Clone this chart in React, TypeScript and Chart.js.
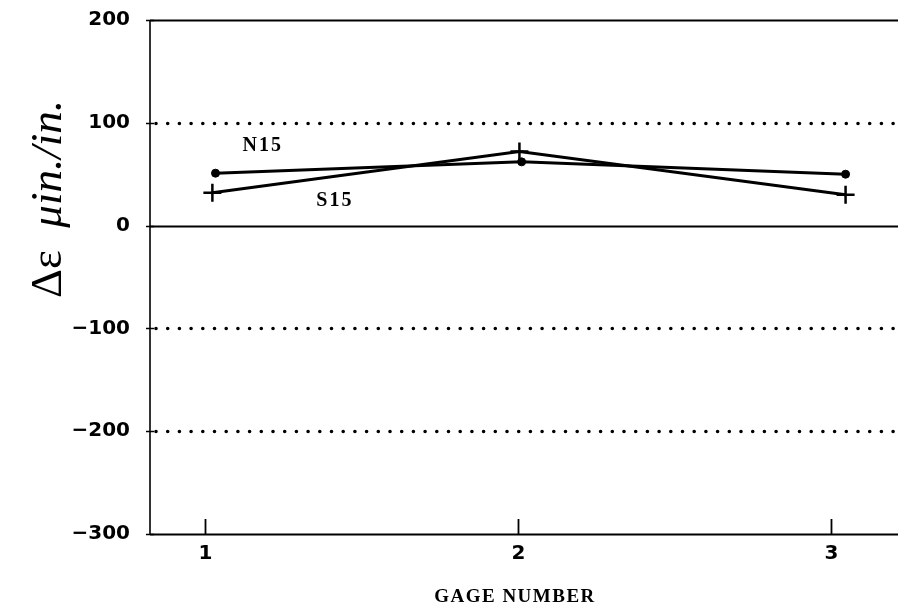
import React, { useEffect, useRef } from "react";
import { Chart, registerables } from "chart.js";

Chart.register(...registerables);

// Data
const gageTicks = [1, 2, 3];
const n15X = [1.032, 2.01, 3.045];
const n15Y = [51, 62, 50];
const s15X = [1.022, 2.003, 3.045];
const s15Y = [32, 72, 30];
const yTicks = [-300, -200, -100, 0, 100, 200];
const solidLines = [0, 200];
const seriesLabels = ["N15", "S15"];
const labelX = [1.18, 1.41];
const labelY = [78, 24];

const decorPlugin = {
  id: "decor",
  beforeDatasetsDraw(chart: any) {
    const { ctx, chartArea, scales } = chart;
    const { left, right, bottom } = chartArea;
    const ys = scales.y;
    const xs = scales.x;
    ctx.save();
    ctx.strokeStyle = "#000";
    yTicks.forEach((v) => {
      const py = Math.round(ys.getPixelForValue(v)) + 0.5;
      const solid = solidLines.includes(v) || v === -300;
      ctx.beginPath();
      if (solid) {
        ctx.setLineDash([]);
        ctx.lineWidth = 2;
        ctx.lineCap = "butt";
      } else {
        ctx.setLineDash([0, 11.7]);
        ctx.lineWidth = 3.6;
        ctx.lineCap = "round";
      }
      ctx.moveTo(left + (solid ? 0 : 6), py);
      ctx.lineTo(right, py);
      ctx.stroke();
      ctx.setLineDash([]);
      ctx.lineWidth = 1.5;
      ctx.lineCap = "butt";
      ctx.beginPath();
      ctx.moveTo(left - 4, py);
      ctx.lineTo(left + 4, py);
      ctx.stroke();
    });
    ctx.setLineDash([]);
    ctx.lineWidth = 1.6;
    ctx.beginPath();
    ctx.moveTo(left, ys.getPixelForValue(200));
    ctx.lineTo(left, ys.getPixelForValue(-300));
    ctx.stroke();
    ctx.lineWidth = 1.8;
    ctx.fillStyle = "#000";
    ctx.font = "bold 20px 'DejaVu Sans'";
    ctx.textAlign = "center";
    ctx.textBaseline = "middle";
    gageTicks.forEach((t) => {
      const px = xs.getPixelForValue(t);
      ctx.beginPath();
      ctx.moveTo(px, bottom);
      ctx.lineTo(px, bottom - 15);
      ctx.stroke();
      ctx.fillText(String(t), px, bottom + 20);
    });
    ctx.restore();
  },
  afterDatasetsDraw(chart: any) {
    const { ctx, scales } = chart;
    const xs = scales.x;
    const ys = scales.y;
    ctx.save();
    ctx.fillStyle = "#000";
    ctx.textAlign = "center";
    ctx.textBaseline = "middle";
    ctx.font = "bold 20px 'Liberation Serif'";
    (ctx as any).letterSpacing = "2px";
    seriesLabels.forEach((lab, i) => {
      ctx.fillText(lab, xs.getPixelForValue(labelX[i]) + 1, ys.getPixelForValue(labelY[i]));
    });
    ctx.font = "bold 19px 'Liberation Serif'";
    (ctx as any).letterSpacing = "1.5px";
    ctx.fillText("GAGE NUMBER", 515, 597);
    (ctx as any).letterSpacing = "0px";
    ctx.translate(49, 199);
    ctx.rotate(-Math.PI / 2);
    const partA = "\u0394\u03b5  ";
    const partB = "\u03bcin./in.";
    ctx.font = "45px 'Liberation Serif'";
    const wA = ctx.measureText(partA).width;
    ctx.font = "italic 45px 'Liberation Serif'";
    const wB = ctx.measureText(partB).width;
    const start = -(wA + wB) / 2;
    ctx.textAlign = "left";
    ctx.font = "45px 'Liberation Serif'";
    ctx.fillText(partA, start, 0);
    ctx.font = "italic 45px 'Liberation Serif'";
    ctx.fillText(partB, start + wA, 0);
    ctx.restore();
  },
};

export default function App() {
  const ref = useRef<HTMLCanvasElement | null>(null);
  useEffect(() => {
    if (!ref.current) return;
    const chart = new Chart(ref.current, {
      type: "line",
      data: {
        datasets: [
          {
            label: "N15",
            data: n15X.map((x, i) => ({ x, y: n15Y[i] })),
            borderColor: "#000",
            backgroundColor: "#000",
            borderWidth: 3,
            pointStyle: "circle",
            pointRadius: 4,
            pointBackgroundColor: "#000",
            pointBorderColor: "#000",
            pointBorderWidth: 1,
            tension: 0,
            clip: false,
          },
          {
            label: "S15",
            data: s15X.map((x, i) => ({ x, y: s15Y[i] })),
            borderColor: "#000",
            backgroundColor: "#000",
            borderWidth: 3,
            pointStyle: "cross",
            pointRadius: 9,
            pointBorderColor: "#000",
            pointBorderWidth: 2.5,
            tension: 0,
            clip: false,
          },
        ],
      },
      options: {
        animation: false,
        responsive: false,
        devicePixelRatio: 1,
        layout: { autoPadding: false, padding: { top: 20, right: 0, left: 0, bottom: 0 } },
        plugins: { legend: { display: false }, tooltip: { enabled: false } },
        scales: {
          x: {
            type: "linear",
            min: 0.8227,
            max: 3.2125,
            afterBuildTicks: (scale: any) => {
              scale.ticks = gageTicks.map((v) => ({ value: v }));
            },
            afterFit: (scale: any) => {
              scale.height = 73;
              scale.paddingLeft = 0;
              scale.paddingRight = 0;
            },
            grid: { display: false },
            border: { display: false },
            ticks: { display: false },
          },
          y: {
            type: "linear",
            min: -300,
            max: 200,
            afterBuildTicks: (scale: any) => {
              scale.ticks = yTicks.map((v) => ({ value: v }));
            },
            afterFit: (scale: any) => {
              scale.width = 150;
              scale.paddingTop = 0;
              scale.paddingBottom = 0;
            },
            grid: { display: false },
            border: { display: false },
            ticks: {
              color: "#000",
              font: { family: "DejaVu Sans", size: 20, weight: "bold" },
              padding: 12,
              callback: (v: any) => (v < 0 ? "\u2212" + Math.abs(v) : String(v)),
            },
          },
        },
      },
      plugins: [decorPlugin],
    });
    return () => chart.destroy();
  }, []);
  return (
    <div style={{ position: "fixed", left: 0, top: 0, width: 898, height: 607, background: "#fff" }}>
      <canvas ref={ref} width={898} height={607} />
    </div>
  );
}
